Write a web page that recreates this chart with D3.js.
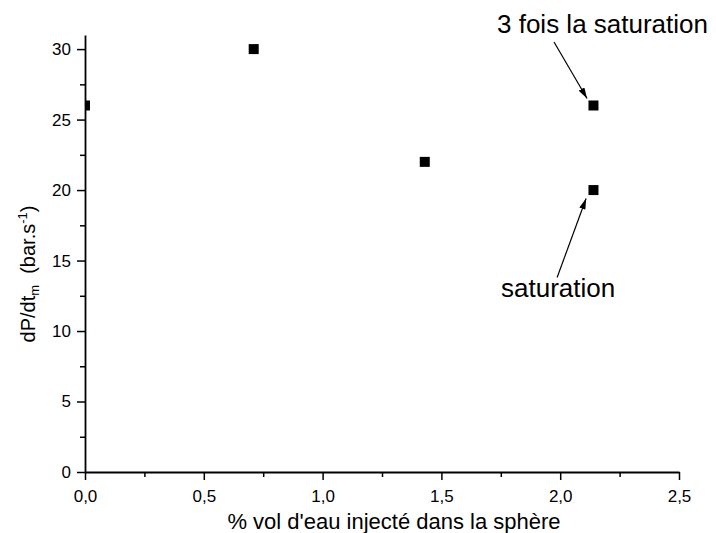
<!DOCTYPE html>
<html>
<head>
    <meta charset="utf-8">
    <title>dP/dt vs % vol eau</title>
    <script src="https://d3js.org/d3.v7.min.js"></script>
    <style>
        body { margin: 0; background: #fff; }
        text { font-family: "Liberation Sans", Arial, sans-serif; fill: #000; }
        .axis path, .axis line { stroke: #000; }
        .axis path { stroke-width: 1.8; }
        .axis line { stroke-width: 1.5; }
    </style>
</head>
<body>
    <svg id="chart"></svg>

    <script>
        // data
        var xValues = [0.0, 0.71, 1.43, 2.14, 2.14];
        var yValues = [26, 30, 22, 26, 20];

        var xTicks = [0, 0.5, 1.0, 1.5, 2.0, 2.5];
        var xMinor = [0.25, 0.75, 1.25, 1.75, 2.25];
        var yTicks = [0, 5, 10, 15, 20, 25, 30];
        var yMinor = [2.5, 7.5, 12.5, 17.5, 22.5, 27.5];

        var xTitle = "% vol d'eau injecté dans la sphère";

        // annotations in data units: label position, arrow start, arrow tip
        var notes = [
            {text: "3 fois la saturation", lx: 1.734, ly: 31.13, x1: 1.974, y1: 30.5, x2: 2.113, y2: 26.5},
            {text: "saturation", lx: 1.751, ly: 12.41, x1: 1.987, y1: 13.8, x2: 2.109, y2: 19.4}
        ];

        var width = 716;
        var height = 533;
        var margin = {top: 35, right: 37, bottom: 61, left: 85};

        var svg = d3.select("#chart")
                    .attr("width", width)
                    .attr("height", height);

        var x = d3.scaleLinear()
            .domain([0, 2.5])
            .range([margin.left, width - margin.right]);

        var y = d3.scaleLinear()
            .domain([0, 31])
            .range([height - margin.bottom, margin.top]);

        var fmt = function(d) { return d3.format(".1f")(d).replace(".", ","); };

        svg.append("defs").append("clipPath")
            .attr("id", "plot")
            .append("rect")
            .attr("x", x(0))
            .attr("y", y(31))
            .attr("width", x(2.5) - x(0))
            .attr("height", y(0) - y(31));

        svg.select("defs").append("marker")
            .attr("id", "head")
            .attr("viewBox", "0 0 10 6")
            .attr("refX", 10)
            .attr("refY", 3)
            .attr("markerWidth", 11)
            .attr("markerHeight", 6.5)
            .attr("markerUnits", "userSpaceOnUse")
            .attr("orient", "auto")
            .append("path")
            .attr("d", "M0,0 L10,3 L0,6 Z")
            .attr("fill", "#000");

        // points
        var pts = d3.range(xValues.length).map(function(i) {
            return {x: xValues[i], y: yValues[i]};
        });
        var sz = 10;
        svg.append("g")
            .attr("clip-path", "url(#plot)")
            .selectAll("rect")
            .data(pts)
            .enter().append("rect")
            .attr("x", function(d) { return x(d.x) - sz / 2; })
            .attr("y", function(d) { return y(d.y) - sz / 2; })
            .attr("width", sz)
            .attr("height", sz)
            .attr("fill", "#000");

        // minor ticks
        svg.append("g")
            .attr("class", "axis")
            .attr("transform", "translate(0," + y(0) + ")")
            .call(d3.axisBottom(x).tickValues(xMinor).tickSize(5).tickFormat(""))
            .call(function(g) { g.select(".domain").remove(); });

        svg.append("g")
            .attr("class", "axis")
            .attr("transform", "translate(" + x(0) + ",0)")
            .call(d3.axisLeft(y).tickValues(yMinor).tickSize(5).tickFormat(""))
            .call(function(g) { g.select(".domain").remove(); });

        // major axes
        var xAxis = svg.append("g")
            .attr("class", "axis")
            .attr("transform", "translate(0," + y(0) + ")")
            .call(d3.axisBottom(x).tickValues(xTicks).tickSize(8).tickSizeOuter(0)
                  .tickPadding(10).tickFormat(fmt));
        xAxis.selectAll("text").style("font-size", "17px");

        var yAxis = svg.append("g")
            .attr("class", "axis")
            .attr("transform", "translate(" + x(0) + ",0)")
            .call(d3.axisLeft(y).tickValues(yTicks).tickSize(8).tickSizeOuter(0)
                  .tickPadding(6));
        yAxis.selectAll("text").style("font-size", "17px");

        // axis titles
        svg.append("text")
            .attr("x", 394)
            .attr("y", 529)
            .attr("text-anchor", "middle")
            .style("font-size", "22px")
            .text(xTitle);

        var yt = svg.append("text")
            .attr("transform", "translate(35," + 274 + ") rotate(-90)")
            .attr("text-anchor", "middle")
            .style("font-size", "20px");
        yt.append("tspan").text("dP/dt");
        yt.append("tspan").attr("dy", 4).style("font-size", "13px").text("m");
        yt.append("tspan").attr("dy", -4).text("  (bar.s");
        yt.append("tspan").attr("dy", -8).style("font-size", "13px").text("-1");
        yt.append("tspan").attr("dy", 8).text(")");
        yt.attr("xml:space", "preserve");

        // annotations
        var ann = svg.append("g");
        ann.selectAll("line")
            .data(notes)
            .enter().append("line")
            .attr("x1", function(d) { return x(d.x1); })
            .attr("y1", function(d) { return y(d.y1); })
            .attr("x2", function(d) { return x(d.x2); })
            .attr("y2", function(d) { return y(d.y2); })
            .attr("stroke", "#000")
            .attr("stroke-width", 1.2)
            .attr("marker-end", "url(#head)");

        ann.selectAll("text")
            .data(notes)
            .enter().append("text")
            .attr("x", function(d) { return x(d.lx); })
            .attr("y", function(d) { return y(d.ly); })
            .style("font-size", "26px")
            .text(function(d) { return d.text; });
    </script>
</body>
</html>
